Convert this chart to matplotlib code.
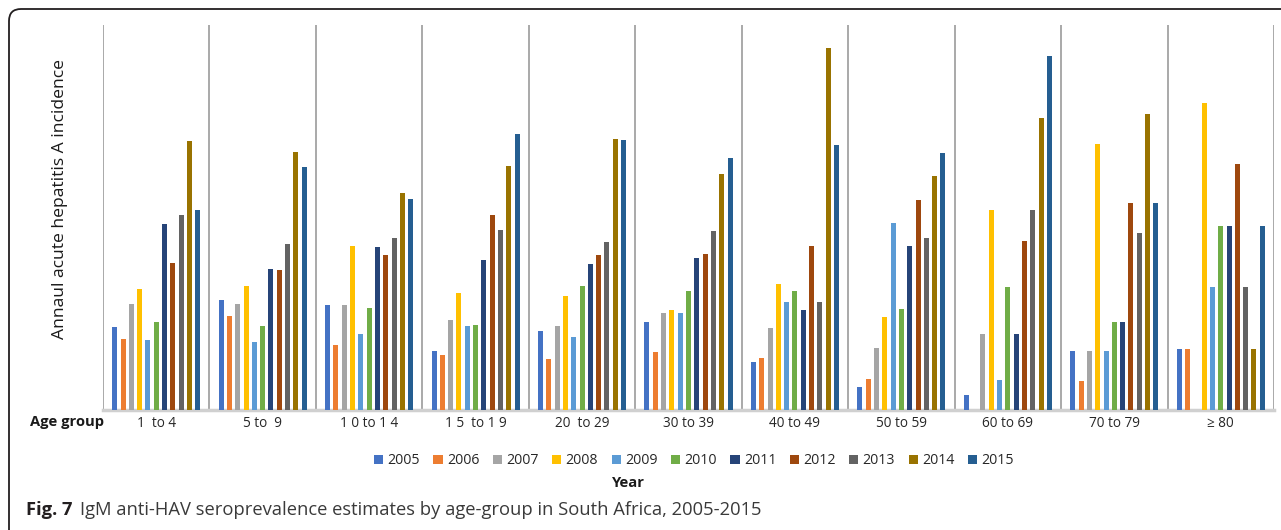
import matplotlib.pyplot as plt
from matplotlib.patches import Patch, FancyBboxPatch
import numpy as np

plt.rcParams['font.family'] = ['Open Sans', 'DejaVu Sans']

# Age groups (labels kept as printed in the source table)
age_groups = ['1  to 4', '5 to  9', '1 0 to 1 4', '1 5  to 1 9', '20  to 29', '30 to 39',
              '40 to 49', '50 to 59', '60 to 69', '70 to 79', '\u2265 80']
years = ['2005', '2006', '2007', '2008', '2009', '2010',
         '2011', '2012', '2013', '2014', '2015']
colors = ['#4472C4', '#ED7D31', '#A5A5A5', '#FFC000', '#5B9BD5', '#70AD47',
          '#264478', '#9E480E', '#636363', '#997300', '#255E91']

# Annual acute hepatitis A incidence, one list per year (values per age group)
inc_2005 = [0.83, 1.10, 1.05, 0.59, 0.79, 0.88, 0.48, 0.23, 0.15, 0.59, 0.61]
inc_2006 = [0.71, 0.94, 0.65, 0.55, 0.51, 0.58, 0.52, 0.31, 0.00, 0.29, 0.61]
inc_2007 = [1.06, 1.06, 1.05, 0.90, 0.84, 0.97, 0.82, 0.62, 0.76, 0.59, 0.00]
inc_2008 = [1.21, 1.24, 1.64, 1.17, 1.14, 1.00, 1.26, 0.93, 2.00, 2.66, 3.07]
inc_2009 = [0.70, 0.68, 0.76, 0.84, 0.73, 0.97, 1.08, 1.87, 0.30, 0.59, 1.23]
inc_2010 = [0.88, 0.84, 1.02, 0.85, 1.24, 1.19, 1.19, 1.01, 1.23, 0.88, 1.84]
inc_2011 = [1.86, 1.41, 1.63, 1.50, 1.46, 1.52, 1.00, 1.64, 0.76, 0.88, 1.84]
inc_2012 = [1.47, 1.40, 1.55, 1.95, 1.55, 1.56, 1.64, 2.10, 1.69, 2.07, 2.46]
inc_2013 = [1.95, 1.66, 1.72, 1.80, 1.68, 1.79, 1.08, 1.72, 2.00, 1.77, 1.23]
inc_2014 = [2.69, 2.58, 2.17, 2.44, 2.71, 2.36, 3.62, 2.34, 2.92, 2.96, 0.61]
inc_2015 = [2.00, 2.43, 2.11, 2.76, 2.70, 2.52, 2.65, 2.57, 3.54, 2.07, 1.84]

series = [inc_2005, inc_2006, inc_2007, inc_2008, inc_2009, inc_2010,
          inc_2011, inc_2012, inc_2013, inc_2014, inc_2015]

W, H = 1281, 530
fig = plt.figure(figsize=(W / 100, H / 100), dpi=100)
ax = fig.add_axes([103 / W, 120 / H, 1171 / W, 385 / H])

x = np.arange(len(age_groups))
slot = 0.078
width = 0.047
for j, (yr, vals, c) in enumerate(zip(years, series, colors)):
    ax.bar(x + (j - 5) * slot, vals, width, color=c, label=yr, zorder=2)

ax.set_xlim(-0.5, len(age_groups) - 0.5)
ax.set_ylim(0, 3.85)

# separators between age groups and the category axis line
for b in np.arange(-0.5, len(age_groups), 1):
    ax.axvline(b, color='#9b9b9b', lw=1.2, zorder=1)
ax.axhline(0, color='#d0d0d0', lw=2.5, zorder=1, clip_on=False)

for s in ax.spines.values():
    s.set_visible(False)
ax.set_yticks([])
ax.set_xticks(x, age_groups, fontsize=9.8, color='#262626')
ax.tick_params(axis='x', length=0, pad=4)

fig.text(30 / W, 1 - 422 / H, 'Age group', fontsize=10.6, fontweight='bold',
         color='#1a1a1a', ha='left', va='center')
fig.text(60 / W, 1 - 199 / H, 'Annaul acute hepatitis A incidence', fontsize=12.6,
         rotation=90, ha='center', va='center', color='#1a1a1a')

handles = [Patch(facecolor=c, label=yr) for yr, c in zip(years, colors)]
fig.legend(handles=handles, loc='center', bbox_to_anchor=(694 / W, 1 - 461 / H),
           ncol=11, frameon=False, fontsize=10.2, handlelength=0.65, handleheight=0.65,
           handletextpad=0.3, columnspacing=0.95, labelcolor='#262626')
fig.text(628 / W, 1 - 483 / H, 'Year', fontsize=10.6, fontweight='bold',
         ha='center', va='center', color='#1a1a1a')

# caption
renderer = fig.canvas.get_renderer()
t1 = fig.text(26 / W, 1 - 510 / H, 'Fig. 7', fontsize=13.2, fontweight='bold',
              ha='left', va='center', color='#231f20')
bb = t1.get_window_extent(renderer=renderer)
fig.text((bb.x1 + 7) / W, 1 - 510 / H,
         'IgM anti-HAV seroprevalence estimates by age-group in South Africa, 2005-2015',
         fontsize=13.2, ha='left', va='center', color='#3a3a3a')

# rounded frame around the figure panel
frame = FancyBboxPatch((9, -40), W + 60, H - 9 + 40, boxstyle='round,pad=0,rounding_size=12',
                       transform=None, fill=False, edgecolor='#231f20', lw=1.3)
fig.add_artist(frame)

fig.savefig('out.png', dpi=100)
